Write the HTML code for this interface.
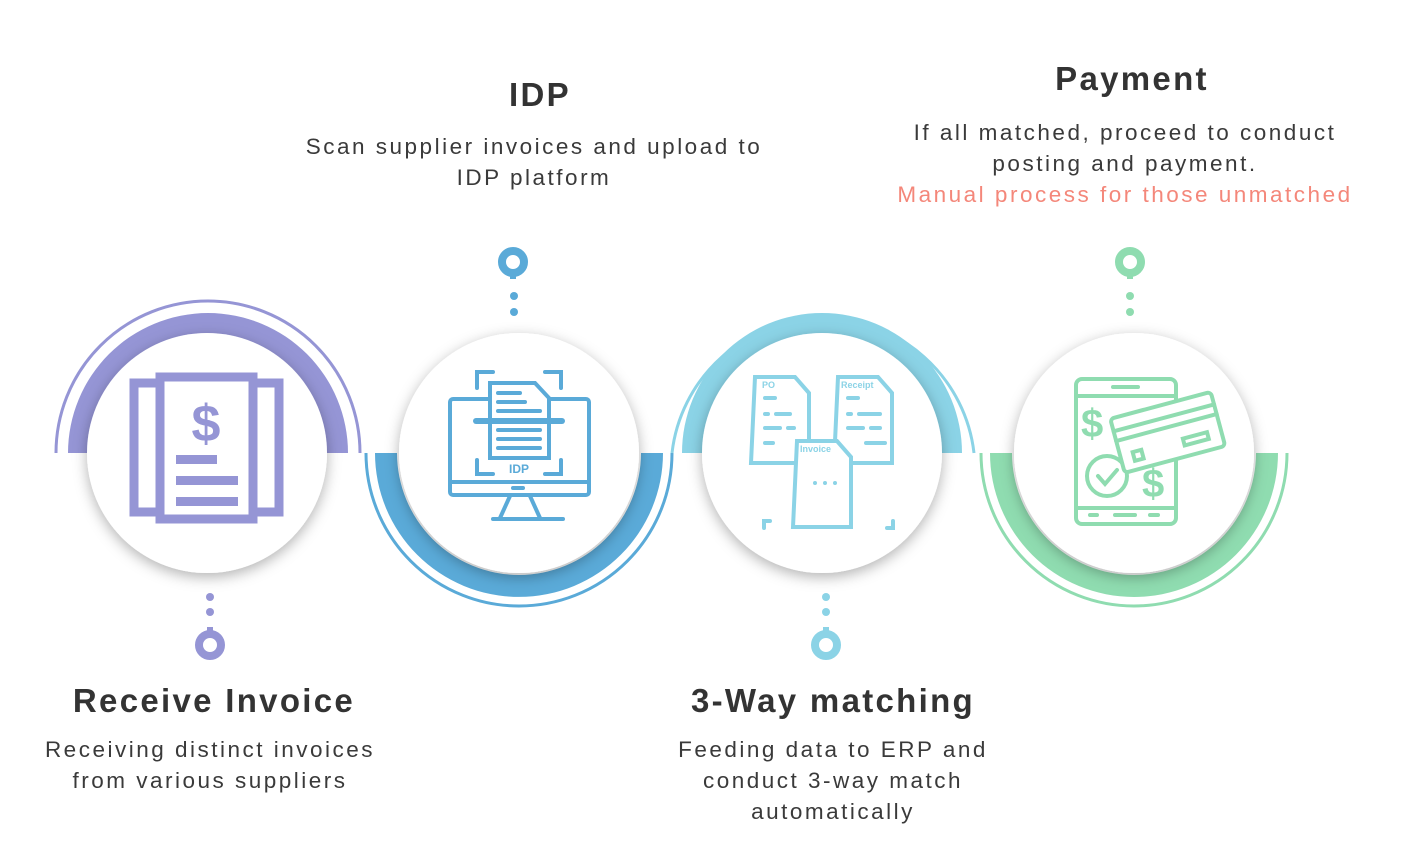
<!DOCTYPE html>
<html><head><meta charset="utf-8"><style>
html,body{margin:0;padding:0;background:#fff;}
body{width:1411px;height:850px;position:relative;overflow:hidden;font-family:"Liberation Sans",Arial,sans-serif;color:#333;}
.t{position:absolute;text-align:center;white-space:nowrap;}
.h{font-weight:bold;font-size:33px;letter-spacing:2.3px;}
.d{font-size:22.5px;line-height:31px;letter-spacing:2.5px;color:#3a3a3a;}
svg{position:absolute;left:0;top:0;}
</style></head><body>
<svg width="1411" height="850" viewBox="0 0 1411 850">
<defs>
<filter id="sh" x="-30%" y="-30%" width="160%" height="160%"><feDropShadow dx="0" dy="4" stdDeviation="7" flood-color="#000" flood-opacity="0.3"/></filter>
</defs>
<g fill="none" stroke-width="3">
<path d="M56 453 A152 152 0 0 1 360 453" stroke="#9595d5"/>
<path d="M366 453 A153 153 0 0 0 672 453" stroke="#5aaad8"/>
<path d="M672 453 A152 152 0 0 1 974 453" stroke="#8bd3e6"/>
<path d="M981 453 A153 153 0 0 0 1287 453" stroke="#8fdcb0"/>
</g>
<path d="M68 453 A140 140 0 0 1 348 453 L326 453 A118 118 0 0 0 90 453 Z" fill="#9595d5"/>
<path d="M375 453 A144 144 0 0 0 663 453 L641 453 A122 122 0 0 1 397 453 Z" fill="#5aaad8"/>
<path d="M682 453 A140 140 0 0 1 962 453 L940 453 A118 118 0 0 0 704 453 Z" fill="#8bd3e6"/>
<path d="M990 453 A144 144 0 0 0 1278 453 L1256 453 A122 122 0 0 1 1012 453 Z" fill="#8fdcb0"/>
<g fill="#fff" filter="url(#sh)">
<circle cx="207" cy="453" r="120"/>
<circle cx="519" cy="453" r="120"/>
<circle cx="822" cy="453" r="120"/>
<circle cx="1134" cy="453" r="120"/>
</g>
<g>
<circle cx="513" cy="262" r="11" fill="none" stroke="#5aaad8" stroke-width="8"/><rect x="510" y="270" width="6" height="9" fill="#5aaad8"/>
<circle cx="514" cy="296" r="4" fill="#5aaad8"/><circle cx="514" cy="312" r="4" fill="#5aaad8"/>
<circle cx="1130" cy="262" r="11" fill="none" stroke="#8fdcb0" stroke-width="8"/><rect x="1127" y="270" width="6" height="9" fill="#8fdcb0"/>
<circle cx="1130" cy="296" r="4" fill="#8fdcb0"/><circle cx="1130" cy="312" r="4" fill="#8fdcb0"/>
<circle cx="210" cy="645" r="11" fill="none" stroke="#9595d5" stroke-width="8"/><rect x="207" y="627" width="6" height="9" fill="#9595d5"/>
<circle cx="210" cy="597" r="4" fill="#9595d5"/><circle cx="210" cy="612" r="4" fill="#9595d5"/>
<circle cx="826" cy="645" r="11" fill="none" stroke="#8bd3e6" stroke-width="8"/><rect x="823" y="627" width="6" height="9" fill="#8bd3e6"/>
<circle cx="826" cy="597" r="4" fill="#8bd3e6"/><circle cx="826" cy="612" r="4" fill="#8bd3e6"/>
</g>
<g fill="none" stroke="#9595d5" stroke-width="9">
<rect x="134" y="383" width="145" height="129"/>
<rect x="160" y="377" width="93" height="142" fill="#fff"/>
</g>
<g fill="#9595d5">
<text x="206" y="441" font-size="52" font-weight="bold" text-anchor="middle" font-family="Liberation Sans,sans-serif">$</text>
<rect x="176" y="455" width="41" height="9"/><rect x="176" y="476" width="62" height="9"/><rect x="176" y="497" width="62" height="9"/>
</g>
<g fill="none" stroke="#5aaad8" stroke-width="4" stroke-linecap="round">
<rect x="450" y="399" width="139" height="96" rx="3"/>
<line x1="450" y1="482" x2="589" y2="482"/>
<line x1="493" y1="519" x2="563" y2="519"/><line x1="510" y1="496" x2="500" y2="518"/><line x1="530" y1="496" x2="540" y2="518"/>
<path d="M477 388 v-16 h16 M545 372 h16 v16 M477 460 v14 h16 M561 460 v14 h-16"/>
<path d="M490 383 h45 l14 15 v60 h-59 z" fill="#fff"/>
<line x1="498" y1="393" x2="520" y2="393"/><line x1="498" y1="402" x2="525" y2="402"/><line x1="498" y1="411" x2="540" y2="411"/>
<line x1="498" y1="430" x2="540" y2="430"/><line x1="498" y1="439" x2="540" y2="439"/><line x1="498" y1="448" x2="540" y2="448"/>
<line x1="476" y1="421" x2="562" y2="421" stroke-width="6"/>
<line x1="513" y1="488" x2="523" y2="488"/>
</g>
<text x="519" y="473" font-size="12" font-weight="bold" fill="#5aaad8" text-anchor="middle">IDP</text>
<g fill="none" stroke="#8bd3e6" stroke-width="4" stroke-linecap="round">
<path d="M755 377 h40 l14 16 v70 h-58 z" fill="#fff"/>
<path d="M838 377 h40 l14 16 v70 h-58 z" fill="#fff"/>
<path d="M764 528 v-7 h6 M893 521 v7 h-6" />
<path d="M797 441 h40 l14 16 v70 h-58 z" fill="#fff"/>
<line x1="765" y1="398" x2="775" y2="398"/><line x1="765" y1="414" x2="768" y2="414"/><line x1="776" y1="414" x2="790" y2="414"/>
<line x1="765" y1="428" x2="780" y2="428"/><line x1="788" y1="428" x2="794" y2="428"/><line x1="765" y1="443" x2="773" y2="443"/>
<line x1="848" y1="398" x2="858" y2="398"/><line x1="848" y1="414" x2="851" y2="414"/><line x1="859" y1="414" x2="880" y2="414"/>
<line x1="848" y1="428" x2="863" y2="428"/><line x1="871" y1="428" x2="880" y2="428"/><line x1="866" y1="443" x2="885" y2="443"/>
</g>
<g fill="#8bd3e6" font-size="9" font-weight="bold"><text x="762" y="388">PO</text><text x="841" y="388">Receipt</text><text x="800" y="452">Invoice</text>
<circle cx="815" cy="483" r="2"/><circle cx="825" cy="483" r="2"/><circle cx="835" cy="483" r="2"/></g>
<g fill="none" stroke="#8fdcb0" stroke-width="4" stroke-linecap="round">
<rect x="1076" y="379" width="100" height="145" rx="6"/>
<line x1="1076" y1="396" x2="1176" y2="396"/><line x1="1076" y1="508" x2="1176" y2="508"/>
<line x1="1113" y1="387" x2="1138" y2="387"/>
<line x1="1090" y1="515" x2="1097" y2="515"/><line x1="1115" y1="515" x2="1135" y2="515"/><line x1="1150" y1="515" x2="1158" y2="515"/>
<circle cx="1107" cy="476" r="20"/><path d="M1098 476 l7 8 l12 -14"/>
<g transform="rotate(-15 1165 430)"><rect x="1115" y="405" width="104" height="56" rx="4" fill="#fff"/><line x1="1115" y1="418" x2="1219" y2="418"/><line x1="1115" y1="428" x2="1219" y2="428"/><rect x="1128" y="443" width="9" height="9"/><rect x="1180" y="443" width="25" height="7"/></g>
</g>
<g fill="#8fdcb0" font-weight="bold" font-size="40"><text x="1081" y="437">$</text><text x="1142" y="497">$</text></g>
</svg>
<div class="t h" style="left:440px;top:76px;width:200px;">IDP</div>
<div class="t d" style="left:234px;top:131px;width:600px;">Scan supplier invoices and upload to<br>IDP platform</div>
<div class="t h" style="left:982px;top:60px;width:300px;">Payment</div>
<div class="t d" style="left:825px;top:117px;width:600px;">If all matched, proceed to conduct<br>posting and payment.<br><span style="color:#f4877a">Manual process for those unmatched</span></div>
<div class="t h" style="left:14px;top:682px;width:400px;">Receive Invoice</div>
<div class="t d" style="left:10px;top:734px;width:400px;">Receiving distinct invoices<br>from various suppliers</div>
<div class="t h" style="left:633px;top:682px;width:400px;">3-Way matching</div>
<div class="t d" style="left:633px;top:734px;width:400px;">Feeding data to ERP and<br>conduct 3-way match<br>automatically</div>
</body></html>
